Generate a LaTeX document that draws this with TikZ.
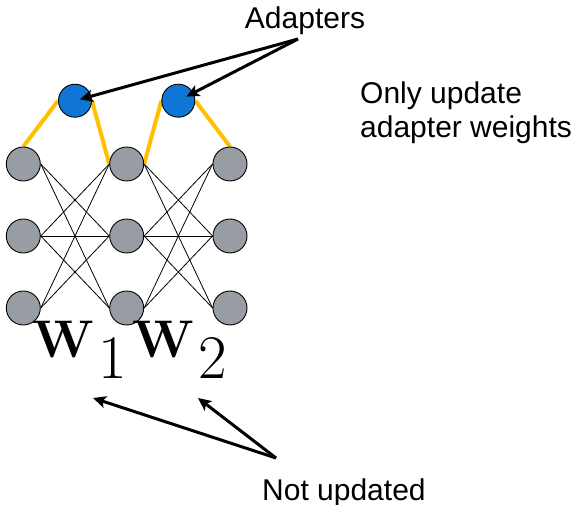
\documentclass[tikz,border=0pt]{standalone}
\usepackage{fontspec}
\newfontfamily\labelfont{Liberation Sans}
\usetikzlibrary{arrows.meta,backgrounds}

\definecolor{unitgrey}{RGB}{152,156,163}
\definecolor{adapterblue}{RGB}{16,118,214}
\definecolor{adapteryellow}{RGB}{255,192,0}

\tikzset{
  unit/.style={circle, draw=black, line width=0.9pt, fill=unitgrey,
               minimum size=34pt, inner sep=0pt},
  adapter/.style={circle, draw=black, line width=0.9pt, fill=adapterblue,
                  minimum size=33pt, inner sep=0pt},
  weight/.style={line width=0.8pt, black},
  link/.style={line width=4pt, adapteryellow},
  pointer/.style={line width=3pt, black,
                  -{Stealth[length=13pt, width=12pt, inset=3pt]}},
  label/.style={font=\labelfont\fontsize{30}{34}\selectfont, inner sep=0pt},
  matname/.style={font=\bfseries\fontsize{53}{53}\selectfont, inner sep=0pt,
                  anchor=base west},
  matindex/.style={font=\fontsize{62}{62}\selectfont, inner sep=0pt,
                   anchor=base west},
}

\begin{document}
\begin{tikzpicture}[x=1pt, y=-1pt]
\useasboundingbox (0,0) rectangle (579,505);

% three layers of units
\foreach \c/\x in {1/23.3, 2/126.7, 3/230} {
  \foreach \r/\y in {1/164, 2/236, 3/308} {
    \node[unit] (u\c\r) at (\x,\y) {};
  }
}

% adapter units
\node[adapter] (a1) at (75,100.7) {};
\node[adapter] (a2) at (178.3,100.7) {};

\begin{scope}[on background layer]
  % dense connections (all but top-top and bottom-bottom)
  \foreach \l/\m in {1/2, 2/3} {
    \foreach \i/\j in {1/2, 1/3, 2/1, 2/2, 2/3, 3/1, 3/2} {
      \draw[weight] (u\l\i.east) -- (u\m\j.west);
    }
  }
  % adapter links
  \draw[link] (u11.north) -- (a1.west);
  \draw[link] (a1.east) -- (u21.west);
  \draw[link] (u21.east) -- (a2.west);
  \draw[link] (a2.east) -- (u31.north);
\end{scope}

% labels
\node[label, anchor=base] (adp) at (305,29) {Adapters};
\node[label, anchor=base west, align=left] (upd) at (360,138)
  {Only update\\adapter weights};
\node[label, anchor=base west] (nup) at (262,500) {Not updated};

% weight matrix names
\node[matname] (w1) at (32,358) {W};
\node[matindex] (s1) at (98,378) {1};
\node[matname] (w2) at (132,358) {W};
\node[matindex] (s2) at (198,378) {2};

% pointers
\coordinate (apexA) at (298,39);
\draw[pointer, shorten >=5pt] (apexA) -- (a1.center);
\draw[pointer, shorten >=9pt] (apexA) -- (a2.center);

\coordinate (apexN) at (276,458);
\coordinate (tipW1) at (93,398);
\coordinate (tipW2) at (198,398);
\draw[pointer] (apexN) -- (tipW1);
\draw[pointer] (apexN) -- (tipW2);
\end{tikzpicture}
\end{document}
